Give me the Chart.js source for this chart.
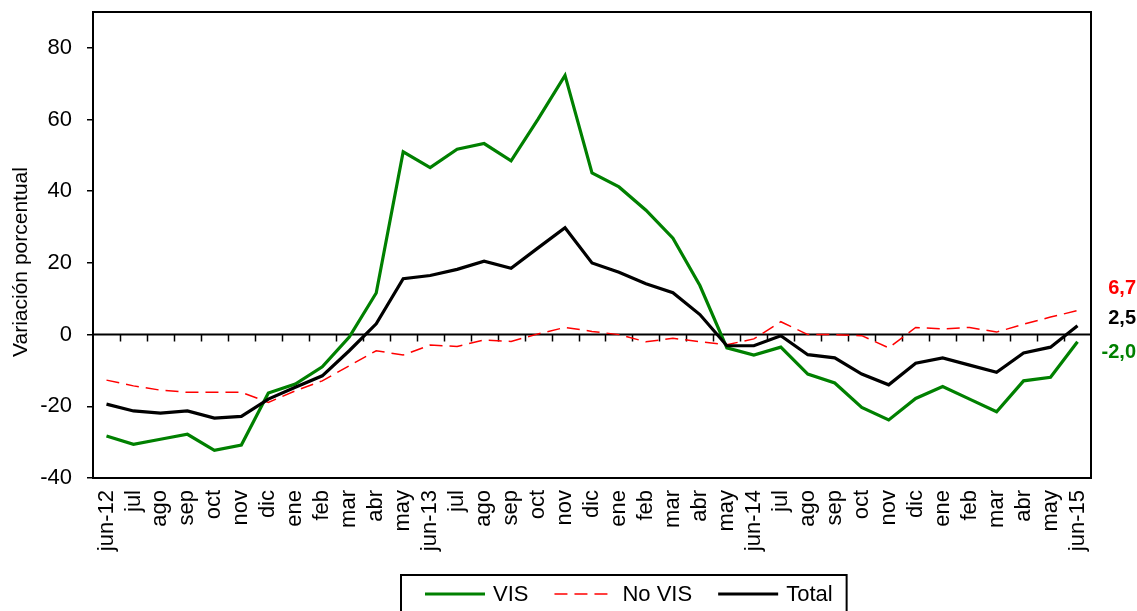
<!DOCTYPE html>
<html>
<head>
<meta charset="utf-8">
<title>Variación porcentual VIS / No VIS</title>
<script src="https://cdn.jsdelivr.net/npm/chart.js@4.4.1/dist/chart.umd.min.js"></script>
<style>
  html, body { margin: 0; padding: 0; background: #fff; }
  #wrap { width: 1137px; height: 611px; position: relative; }
</style>
</head>
<body>
<div id="wrap"><canvas id="chart" width="1137" height="611"></canvas></div>
<script>
const months = ['jun-12', 'jul', 'ago', 'sep', 'oct', 'nov', 'dic', 'ene', 'feb', 'mar', 'abr', 'may',
  'jun-13', 'jul', 'ago', 'sep', 'oct', 'nov', 'dic', 'ene', 'feb', 'mar', 'abr', 'may',
  'jun-14', 'jul', 'ago', 'sep', 'oct', 'nov', 'dic', 'ene', 'feb', 'mar', 'abr', 'may', 'jun-15'];

const vis = [-28.3, -30.6, -29.2, -27.8, -32.3, -30.8, -16.3, -13.8, -9.0, -0.7, 11.6, 51.0,
  46.6, 51.7, 53.3, 48.5, 60.1, 72.3, 45.1, 41.2, 34.7, 26.9, 13.7, -3.7,
  -5.7, -3.5, -11.0, -13.5, -20.3, -23.8, -17.8, -14.5, -18.0, -21.5, -12.9, -11.9, -2.0];

const noVis = [-12.7, -14.3, -15.5, -16.1, -16.1, -16.1, -18.9, -15.7, -12.9, -8.7, -4.5, -5.7,
  -2.9, -3.3, -1.5, -1.9, 0.2, 2.0, 0.9, 0.0, -2.0, -1.0, -2.0, -2.8,
  -1.2, 3.6, 0.0, 0.0, -0.3, -3.7, 2.0, 1.6, 2.0, 0.7, 2.9, 4.9, 6.7];

const total = [-19.4, -21.3, -21.9, -21.3, -23.3, -22.8, -18.0, -14.7, -11.5, -4.5, 3.0, 15.6,
  16.5, 18.2, 20.5, 18.5, 24.2, 29.8, 20.0, 17.4, 14.2, 11.7, 5.6, -3.1,
  -3.1, -0.3, -5.6, -6.5, -11.0, -14.0, -8.0, -6.5, -8.5, -10.5, -5.1, -3.5, 2.5];

const yTicks = [-40, -20, 0, 20, 40, 60, 80];

const FONT = '"Liberation Sans", Arial, sans-serif';

// vertical nudge (px) of the end-of-series labels so they don't collide
const endLabelShift = [11, -22, -7];

const frame = {
  id: 'frame',
  beforeDatasetsDraw(chart) {
    const { ctx, chartArea: a, scales: { y } } = chart;
    const y0 = y.getPixelForValue(0);
    ctx.save();
    ctx.strokeStyle = '#000';
    ctx.lineWidth = 2;
    ctx.beginPath();
    ctx.moveTo(a.left, y0);
    ctx.lineTo(a.right, y0);
    ctx.stroke();
    // tick marks between categories on the zero line
    ctx.lineWidth = 1.5;
    const step = (a.right - a.left) / months.length;
    ctx.beginPath();
    for (let i = 1; i < months.length; i++) {
      const px = Math.round(a.left + i * step) + 0.5;
      ctx.moveTo(px, y0);
      ctx.lineTo(px, y0 + 7);
    }
    ctx.stroke();
    ctx.restore();
  },
  afterDatasetsDraw(chart) {
    const { ctx, chartArea: a, scales: { y } } = chart;
    ctx.save();
    ctx.strokeStyle = '#000';
    ctx.lineWidth = 2;
    ctx.strokeRect(a.left, a.top, a.right - a.left, a.bottom - a.top);

    // last value of each series, written outside the plot on the right
    ctx.font = 'bold 20px ' + FONT;
    ctx.textAlign = 'right';
    ctx.textBaseline = 'middle';
    chart.data.datasets.forEach((ds, i) => {
      const v = ds.data[ds.data.length - 1];
      ctx.fillStyle = ds.borderColor;
      ctx.fillText(v.toFixed(1).replace('.', ','), 1136, y.getPixelForValue(v) + endLabelShift[i]);
    });

    // axis title
    ctx.font = '21px ' + FONT;
    ctx.fillStyle = '#000';
    ctx.textAlign = 'center';
    ctx.translate(21, 262);
    ctx.rotate(-Math.PI / 2);
    ctx.fillText('Variación porcentual', 0, 0);
    ctx.restore();
  },
  afterDraw(chart) {
    // boxed legend under the axis labels
    const { ctx } = chart;
    const boxLeft = 401, boxTop = 575, lineY = 594;
    ctx.save();
    ctx.font = '22px ' + FONT;
    ctx.textBaseline = 'middle';
    ctx.textAlign = 'left';
    let cx = boxLeft + 24;
    chart.data.datasets.forEach((ds, i) => {
      ctx.strokeStyle = ds.borderColor;
      ctx.lineWidth = ds.borderWidth;
      ctx.setLineDash(ds.borderDash || []);
      ctx.beginPath();
      ctx.moveTo(cx, lineY);
      ctx.lineTo(cx + 60, lineY);
      ctx.stroke();
      ctx.setLineDash([]);
      cx += 68;
      ctx.fillStyle = '#000';
      ctx.fillText(ds.label, cx, lineY + 1);
      cx += ctx.measureText(ds.label).width;
      if (i < chart.data.datasets.length - 1) cx += 26;
    });
    ctx.strokeStyle = '#000';
    ctx.lineWidth = 2;
    ctx.strokeRect(boxLeft, boxTop, cx + 14 - boxLeft, 44);
    ctx.restore();
  }
};

new Chart(document.getElementById('chart').getContext('2d'), {
  type: 'line',
  data: {
    labels: months,
    datasets: [
      { label: 'VIS', data: vis, borderColor: '#008000', borderWidth: 3.2, order: 2 },
      { label: 'No VIS', data: noVis, borderColor: '#ff0000', borderWidth: 1.5, borderDash: [13, 7], order: 3 },
      { label: 'Total', data: total, borderColor: '#000000', borderWidth: 3.2, order: 1 }
    ]
  },
  options: {
    responsive: false,
    animation: false,
    devicePixelRatio: 1,
    elements: { point: { radius: 0 }, line: { tension: 0, fill: false } },
    layout: { padding: { top: 12, right: 46, left: 0, bottom: 0 } },
    plugins: { legend: { display: false }, tooltip: { enabled: false } },
    scales: {
      x: {
        offset: true,
        afterFit: s => { s.height = 133; s.paddingLeft = 0; s.paddingRight = 0; },
        grid: { display: false, drawTicks: false },
        border: { display: false },
        ticks: { minRotation: 90, maxRotation: 90, autoSkip: false, padding: 12, color: '#000', font: { family: FONT, size: 22 } }
      },
      y: {
        min: -40,
        max: 90,
        afterFit: s => { s.width = 93; s.paddingTop = 0; s.paddingBottom = 0; },
        afterBuildTicks: s => { s.ticks = yTicks.map(v => ({ value: v })); },
        grid: { drawOnChartArea: false, tickLength: 6, color: '#000', lineWidth: 1.5 },
        border: { display: false },
        ticks: { padding: 15, color: '#000', font: { family: FONT, size: 22 } }
      }
    }
  },
  plugins: [frame]
});
</script>
</body>
</html>
